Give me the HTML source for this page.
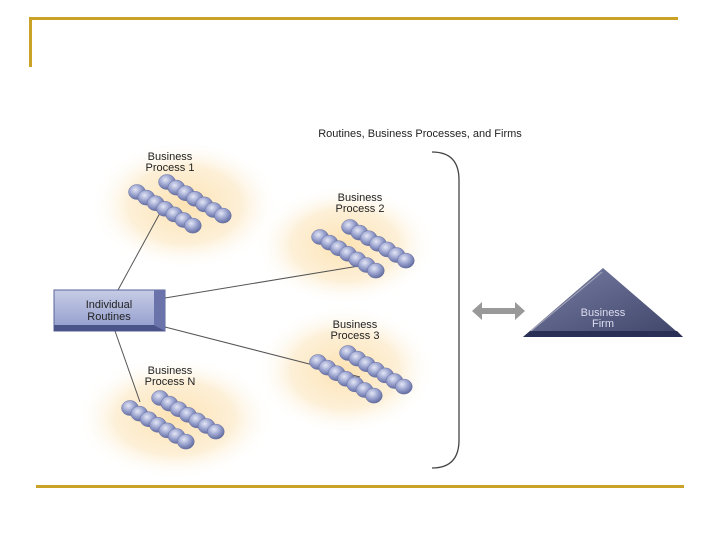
<!DOCTYPE html>
<html><head><meta charset="utf-8"><style>body{margin:0;background:#fff}svg{display:block}text{font-family:"Liberation Sans",sans-serif}</style></head><body>
<svg width="720" height="540" viewBox="0 0 720 540">
<defs>
<radialGradient id="g"><stop offset="0" stop-color="#fde3b4"/><stop offset="0.6" stop-color="#fdf0d8"/><stop offset="1" stop-color="#fff" stop-opacity="0"/></radialGradient>
<radialGradient id="b" cx="0.4" cy="0.35" r="0.7"><stop offset="0" stop-color="#e4e7f5"/><stop offset="0.5" stop-color="#9aa3cf"/><stop offset="1" stop-color="#5a6498"/></radialGradient>
<linearGradient id="box" x1="0" y1="0" x2="0" y2="1"><stop offset="0" stop-color="#c7cde6"/><stop offset="1" stop-color="#8f9acb"/></linearGradient>
<linearGradient id="tri" x1="0" y1="0" x2="1" y2="1"><stop offset="0" stop-color="#7a80a6"/><stop offset="1" stop-color="#3e4468"/></linearGradient>
<g id="ch" fill="url(#b)" stroke="#6a72a4" stroke-width="0.5">
<ellipse cx="0" cy="0" rx="8.5" ry="7.5"/>
<ellipse cx="9.3" cy="5.6" rx="8.5" ry="7.5"/>
<ellipse cx="18.6" cy="11.2" rx="8.5" ry="7.5"/>
<ellipse cx="27.9" cy="16.8" rx="8.5" ry="7.5"/>
<ellipse cx="37.2" cy="22.4" rx="8.5" ry="7.5"/>
<ellipse cx="46.5" cy="28" rx="8.5" ry="7.5"/>
<ellipse cx="55.8" cy="33.6" rx="8.5" ry="7.5"/>
</g>
</defs>
<rect x="30" y="17" width="648" height="3" fill="#c9a227"/>
<rect x="29" y="17" width="3" height="50" fill="#c9a227"/>
<rect x="36" y="485" width="648" height="3" fill="#c9a227"/>
<ellipse cx="185" cy="205" rx="95" ry="65" fill="url(#g)"/>
<ellipse cx="345" cy="245" rx="90" ry="60" fill="url(#g)"/>
<ellipse cx="345" cy="370" rx="90" ry="65" fill="url(#g)"/>
<ellipse cx="175" cy="418" rx="100" ry="62" fill="url(#g)"/>
<g stroke="#555" stroke-width="1">
<line x1="118" y1="290" x2="160" y2="213"/><line x1="165" y1="298" x2="365" y2="265"/>
<line x1="165" y1="327" x2="360" y2="377"/><line x1="115" y1="331" x2="140" y2="402"/>
</g>
<use href="#ch" x="137" y="192"/><use href="#ch" x="167" y="182"/>
<use href="#ch" x="320" y="237"/><use href="#ch" x="350" y="227"/>
<use href="#ch" x="318" y="362"/><use href="#ch" x="348" y="353"/>
<use href="#ch" x="130" y="408"/><use href="#ch" x="160" y="398"/>
<g font-size="11" fill="#222" text-anchor="middle">
<text x="170" y="160">Business</text><text x="170" y="171">Process 1</text>
<text x="360" y="201">Business</text><text x="360" y="212">Process 2</text>
<text x="355" y="328">Business</text><text x="355" y="339">Process 3</text>
<text x="170" y="374">Business</text><text x="170" y="385">Process N</text>
<text x="420" y="137">Routines, Business Processes, and Firms</text>
</g>
<rect x="54" y="290" width="111" height="41" fill="url(#box)" stroke="#5a6498"/>
<polygon points="154,290 165,290 165,331 154,325" fill="#6a74aa"/>
<polygon points="54,325 154,325 165,331 54,331" fill="#4a5488"/>
<text x="109" y="308" font-size="11" text-anchor="middle" fill="#222">Individual</text>
<text x="109" y="320" font-size="11" text-anchor="middle" fill="#222">Routines</text>
<path d="M432,152 Q459,152 459,180 L459,440 Q459,468 432,468" fill="none" stroke="#444" stroke-width="1.3"/>
<polygon points="472,311 482,302 482,308 515,308 515,302 525,311 515,320 515,314 482,314 482,320" fill="#999"/>
<polygon points="603,268 683,337 523,337" fill="url(#tri)"/>
<polygon points="523,337 683,337 677,331 530,331" fill="#2a3055"/>
<line x1="531" y1="331" x2="602" y2="272" stroke="#aab" stroke-width="1"/>
<text x="603" y="316" font-size="11" text-anchor="middle" fill="#dde">Business</text>
<text x="603" y="327" font-size="11" text-anchor="middle" fill="#dde">Firm</text>
</svg>
</body></html>
